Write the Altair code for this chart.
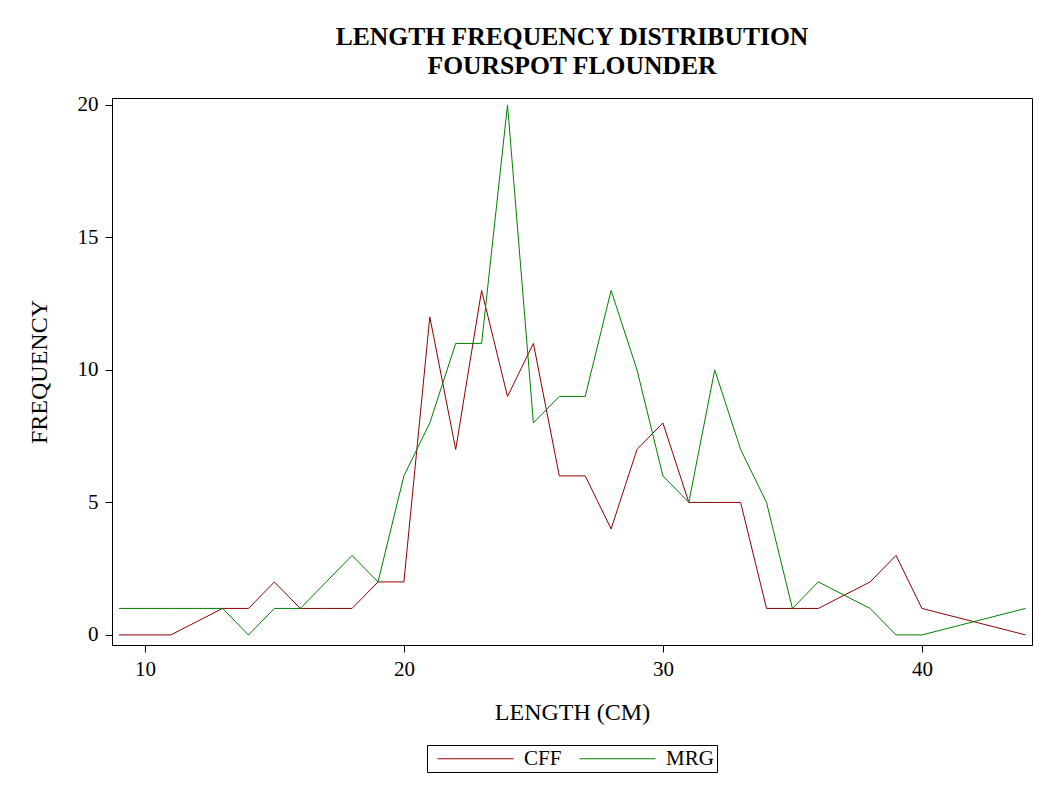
import altair as alt
import pandas as pd

# ---- data ----
cff_length = [9, 10, 11, 13, 14, 15, 16, 17, 18, 19, 20, 21, 22, 23, 24, 25, 26, 27,
              28, 29, 30, 31, 32, 33, 34, 35, 36, 38, 39, 40, 44]
cff_freq = [0, 0, 0, 1, 1, 2, 1, 1, 1, 2, 2, 12, 7, 13, 9, 11, 6, 6,
            4, 7, 8, 5, 5, 5, 1, 1, 1, 2, 3, 1, 0]

mrg_length = [9, 10, 11, 12, 13, 14, 15, 16, 17, 18, 19, 20, 21, 22, 23, 24, 25, 26,
              27, 28, 29, 30, 31, 32, 33, 34, 35, 36, 38, 39, 40, 44]
mrg_freq = [1, 1, 1, 1, 1, 0, 1, 1, 2, 3, 2, 6, 8, 11, 11, 20, 8, 9,
            9, 13, 10, 6, 5, 10, 7, 5, 1, 2, 1, 0, 0, 1]

series = ["CFF", "MRG"]
colors = ["#8B0000", "#008000"]
x_ticks = [10, 20, 30, 40]
y_ticks = [0, 5, 10, 15, 20]

df = pd.concat([
    pd.DataFrame({"length": cff_length, "freq": cff_freq, "group": "CFF"}),
    pd.DataFrame({"length": mrg_length, "freq": mrg_freq, "group": "MRG"}),
])

FONT = "Liberation Serif"

chart = alt.Chart(df).mark_line(strokeWidth=1, clip=True).encode(
    x=alt.X("length:Q",
            scale=alt.Scale(domain=[8.73, 44.25], nice=False, zero=False),
            axis=alt.Axis(values=x_ticks, title="LENGTH (CM)", grid=False,
                          tickSize=7, labelPadding=6, titlePadding=21,
                          labelFontSize=21, titleFontSize=24, titleFontWeight="normal",
                          labelFont=FONT, titleFont=FONT, labelColor="black",
                          titleColor="black", domainColor="black", tickColor="black",
                          labelFlush=False)),
    y=alt.Y("freq:Q",
            scale=alt.Scale(domain=[-0.38, 20.26], nice=False, zero=False),
            axis=alt.Axis(values=y_ticks, title="FREQUENCY", grid=False,
                          tickSize=7, labelPadding=7,
                          labelFontSize=21, titleFontSize=24, titleFontWeight="normal",
                          labelFont=FONT, titleFont=FONT, labelColor="black",
                          titleColor="black", domainColor="black", tickColor="black",
                          titleX=-66, titleBaseline="alphabetic", labelFlush=False)),
    color=alt.Color("group:N",
                    scale=alt.Scale(domain=series, range=colors),
                    legend=alt.Legend(title=None, orient="none", direction="horizontal",
                                      legendX=315, legendY=647,
                                      symbolType="M-4,0H4", symbolSize=361,
                                      symbolStrokeWidth=1, symbolOffset=35,
                                      labelFont=FONT, labelFontSize=21,
                                      labelColor="black", labelOffset=38,
                                      columnPadding=10, padding=3,
                                      strokeColor="black")),
).properties(
    width=920,
    height=547,
    title=alt.TitleParams(["LENGTH FREQUENCY DISTRIBUTION", "FOURSPOT FLOUNDER"],
                          font=FONT, fontSize=25.6, fontWeight="bold", color="black",
                          anchor="middle", lineHeight=29, offset=14),
    autosize=alt.AutoSizeParams(type="none"),
    padding={"left": 104, "top": 90, "right": 5, "bottom": 144},
).configure_view(stroke="black", strokeWidth=1)

chart.save("out.html", embed_options={"renderer": "svg", "actions": False})
